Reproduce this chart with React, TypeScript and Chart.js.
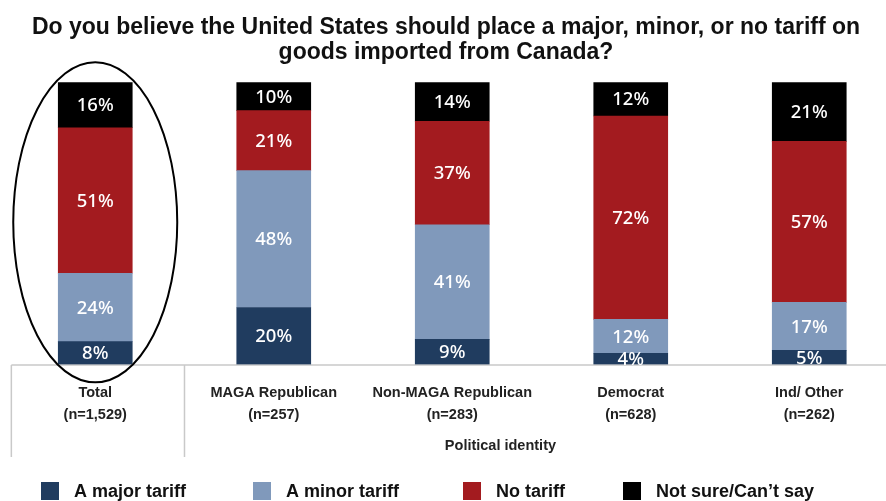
import React, { useEffect, useRef } from "react";
import { Chart, registerables } from "chart.js";

Chart.register(...registerables);

// ---------- data ----------
const categories = ["Total", "MAGA Republican", "Non-MAGA Republican", "Democrat", "Ind/ Other"];
const sampleSizes = ["(n=1,529)", "(n=257)", "(n=283)", "(n=628)", "(n=262)"];
const seriesNames = ["A major tariff", "A minor tariff", "No tariff", "Not sure/Can\u2019t say"];
const majorTariff = [8, 20, 9, 4, 5];
const minorTariff = [24, 48, 41, 12, 17];
const noTariff = [51, 21, 37, 72, 57];
const notSure = [16, 10, 14, 12, 21];
const axisTitle = "Political identity";
const titleLines = [
  "Do you believe the United States should place a major, minor, or no tariff on",
  "goods imported from Canada?",
];

// ---------- styles ----------
const seriesColors = ["#203c5f", "#8099bb", "#a31b1f", "#000000"];
const TITLE_FONT = "'Liberation Sans Narrow', 'Liberation Sans', Arial, sans-serif";
const LABEL_FONT = "'Liberation Sans', Arial, sans-serif";
const VALUE_FONT = "'Noto Sans', 'Open Sans', sans-serif";
const LEGEND_X = [41, 253, 463, 623];

const seriesValues = [majorTariff, minorTariff, noTariff, notSure];
const totals = categories.map((_, i) => seriesValues.reduce((s, arr) => s + arr[i], 0));

const decorPlugin = {
  id: "decor",
  beforeDatasetsDraw(chart: any) {
    const { ctx, chartArea } = chart;
    const xs = chart.scales.x;
    ctx.save();
    ctx.strokeStyle = "#c9c9c9";
    ctx.lineWidth = 1.5;
    const xl = xs.getPixelForValue(-0.47);
    const xd = xs.getPixelForValue(0.5);
    const yb = chartArea.bottom + 0.5;
    ctx.beginPath();
    ctx.moveTo(xl, yb);
    ctx.lineTo(chart.width, yb);
    ctx.moveTo(xl, yb);
    ctx.lineTo(xl, yb + 92);
    ctx.moveTo(xd, yb);
    ctx.lineTo(xd, yb + 92);
    ctx.stroke();
    ctx.restore();
  },
  afterDatasetsDraw(chart: any) {
    const { ctx, chartArea } = chart;
    const xs = chart.scales.x;
    ctx.save();
    // value labels
    ctx.fillStyle = "#ffffff";
    ctx.font = `500 18.5px ${VALUE_FONT}`;
    ctx.textAlign = "center";
    ctx.textBaseline = "middle";
    chart.data.datasets.forEach((ds: any, di: number) => {
      const meta = chart.getDatasetMeta(di);
      meta.data.forEach((el: any, j: number) => {
        const p = el.getProps(["x", "y", "base"], true);
        ctx.fillText(ds.values[j] + "%", p.x, (p.y + p.base) / 2 + 1);
      });
    });
    // ellipse around Total
    ctx.strokeStyle = "#000000";
    ctx.lineWidth = 2;
    ctx.beginPath();
    ctx.ellipse(
      xs.getPixelForValue(0),
      (chartArea.top + chartArea.bottom) / 2 - 1,
      82,
      160,
      0,
      0,
      Math.PI * 2
    );
    ctx.stroke();
    ctx.restore();
  },
  afterDraw(chart: any) {
    const { ctx, chartArea } = chart;
    const xs = chart.scales.x;
    ctx.save();
    // axis title
    ctx.fillStyle = "#222222";
    ctx.font = `bold 14.5px ${LABEL_FONT}`;
    ctx.textAlign = "center";
    ctx.textBaseline = "middle";
    ctx.fillText(axisTitle, xs.getPixelForValue(2.27), chartArea.bottom + 81);
    // legend
    const ly = chart.height - 19;
    ctx.font = `bold 18px ${LABEL_FONT}`;
    ctx.textAlign = "left";
    chart.data.datasets.forEach((ds: any, i: number) => {
      const x = LEGEND_X[i];
      ctx.fillStyle = ds.backgroundColor;
      ctx.fillRect(x, ly, 18, 18);
      ctx.fillStyle = "#111111";
      ctx.fillText(ds.label, x + 33, ly + 10);
    });
    ctx.restore();
  },
};

export default function App() {
  const ref = useRef<HTMLCanvasElement | null>(null);
  useEffect(() => {
    document.body.style.margin = "0";
    if (!ref.current) return;
    const datasets = seriesValues.map((vals, si) => ({
      label: seriesNames[si],
      values: vals,
      data: categories.map((_, i) => ({ x: i, y: (vals[i] / totals[i]) * 100 })),
      backgroundColor: seriesColors[si],
      borderWidth: 0,
      barThickness: 74,
    }));
    const chart = new Chart(ref.current, {
      type: "bar",
      data: { datasets } as any,
      options: {
        animation: false,
        responsive: true,
        maintainAspectRatio: false,
        layout: { padding: { left: 6, right: 0, top: 0, bottom: 57 } },
        scales: {
          x: {
            type: "linear",
            min: -0.5,
            max: 4.43,
            offset: false,
            stacked: true,
            grid: { display: false, drawTicks: false },
            border: { display: false },
            afterBuildTicks: (s: any) => {
              s.ticks = categories.map((_, i) => ({ value: i }));
            },
            ticks: {
              autoSkip: false,
              maxRotation: 0,
              minRotation: 0,
              padding: 18,
              color: "#222222",
              font: { family: LABEL_FONT, size: 14.5, weight: "bold", lineHeight: 1.5 },
              callback: (v: any) => [categories[v], sampleSizes[v]],
            },
          },
          y: { display: false, stacked: true, min: 0, max: 100 },
        },
        plugins: {
          legend: { display: false },
          tooltip: { enabled: false },
          title: {
            display: true,
            text: titleLines,
            color: "#111111",
            font: { family: TITLE_FONT, size: 23, weight: "bold", lineHeight: 1.09 },
            padding: { top: 15, bottom: 17 },
          },
        },
      } as any,
      plugins: [decorPlugin],
    });
    return () => chart.destroy();
  }, []);
  return (
    <div style={{ width: 886, height: 501, position: "relative" }}>
      <canvas ref={ref} />
    </div>
  );
}
